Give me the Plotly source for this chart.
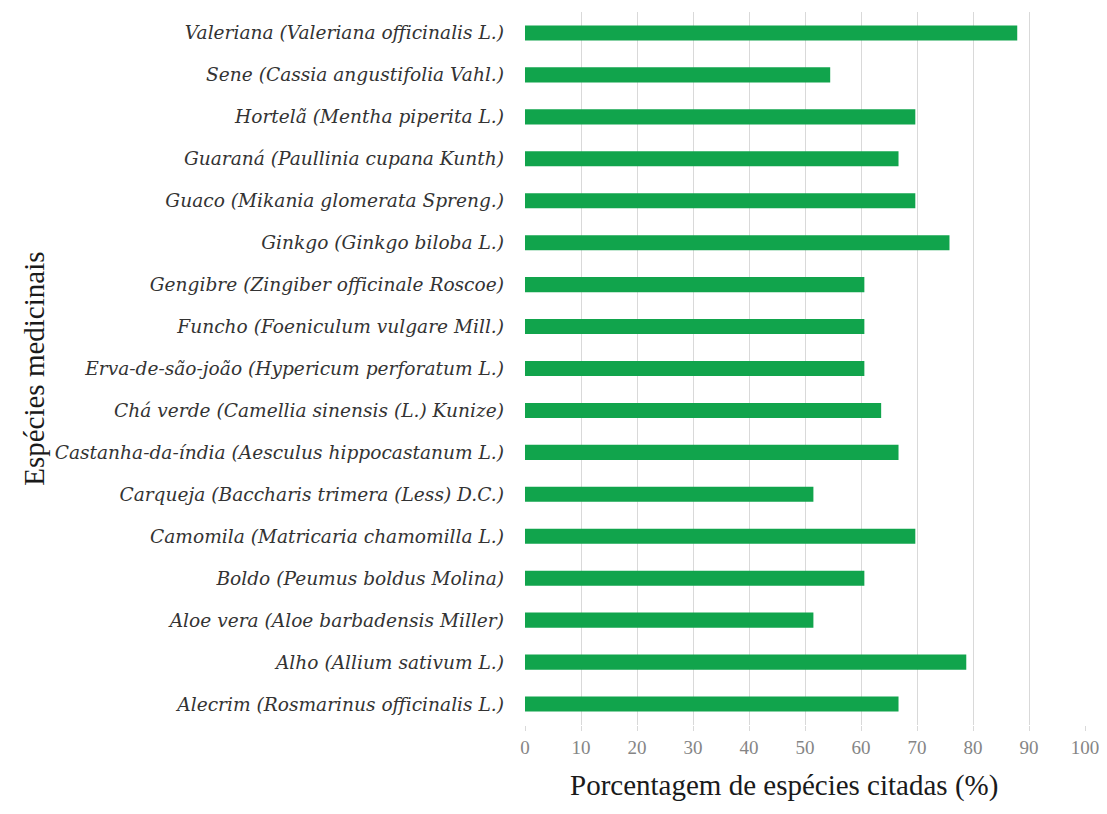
import plotly.graph_objects as go

categories = [
    "Alecrim (Rosmarinus officinalis L.)",
    "Alho (Allium sativum L.)",
    "Aloe vera (Aloe barbadensis Miller)",
    "Boldo (Peumus boldus Molina)",
    "Camomila (Matricaria chamomilla L.)",
    "Carqueja (Baccharis trimera (Less) D.C.)",
    "Castanha-da-índia (Aesculus hippocastanum L.)",
    "Chá verde (Camellia sinensis (L.) Kunize)",
    "Erva-de-são-joão (Hypericum perforatum L.)",
    "Funcho (Foeniculum vulgare Mill.)",
    "Gengibre (Zingiber officinale Roscoe)",
    "Ginkgo (Ginkgo biloba L.)",
    "Guaco (Mikania glomerata Spreng.)",
    "Guaraná (Paullinia cupana Kunth)",
    "Hortelã (Mentha piperita L.)",
    "Sene (Cassia angustifolia Vahl.)",
    "Valeriana (Valeriana officinalis L.)",
]
values = [66.7, 78.8, 51.5, 60.6, 69.7, 51.5, 66.7, 63.6, 60.6, 60.6, 60.6, 75.8, 69.7, 66.7, 69.7, 54.5, 87.9]
x_ticks = [0, 10, 20, 30, 40, 50, 60, 70, 80, 90, 100]

fig = go.Figure(go.Bar(
    y=categories, x=values, orientation="h",
    marker=dict(color="#11a44c", line=dict(width=0)),
    width=0.36,
))

fig.update_layout(
    width=1099, height=806,
    margin=dict(l=517, r=22, t=4, b=89),
    plot_bgcolor="white", paper_bgcolor="white",
    showlegend=False,
    font=dict(family="Liberation Serif", color="#333333"),
    xaxis=dict(
        range=[0, 100], tickvals=x_ticks, automargin=False,
        showgrid=True, gridcolor="#d9d9d9", gridwidth=1,
        zeroline=False, showline=False,
        ticks="outside", ticklen=5, tickcolor="#d9d9d9",
        tickfont=dict(family="Liberation Serif", size=19, color="#858585"),
        ticklabelstandoff=0,
    ),
    yaxis=dict(
        categoryorder="array", categoryarray=categories,
        range=[-0.5, 16.5], automargin=False,
        showgrid=False, zeroline=False, showline=False,
        tickfont=dict(family="DejaVu Serif", size=18.6, color="#333333", style="italic"),
        ticklabelstandoff=20,
    ),
    annotations=[
        dict(text="Porcentagem de espécies citadas (%)", xref="paper", yref="paper",
             x=0.463, y=-0.0855, xanchor="center", yanchor="middle", showarrow=False,
             font=dict(family="Liberation Serif", size=29, color="#1a1a1a")),
        dict(text="Espécies medicinais", xref="paper", yref="paper",
             x=-0.878, y=0.5, xanchor="center", yanchor="middle", showarrow=False,
             textangle=-90,
             font=dict(family="Liberation Serif", size=29, color="#1a1a1a")),
    ],
)

fig.write_html("out.html")
